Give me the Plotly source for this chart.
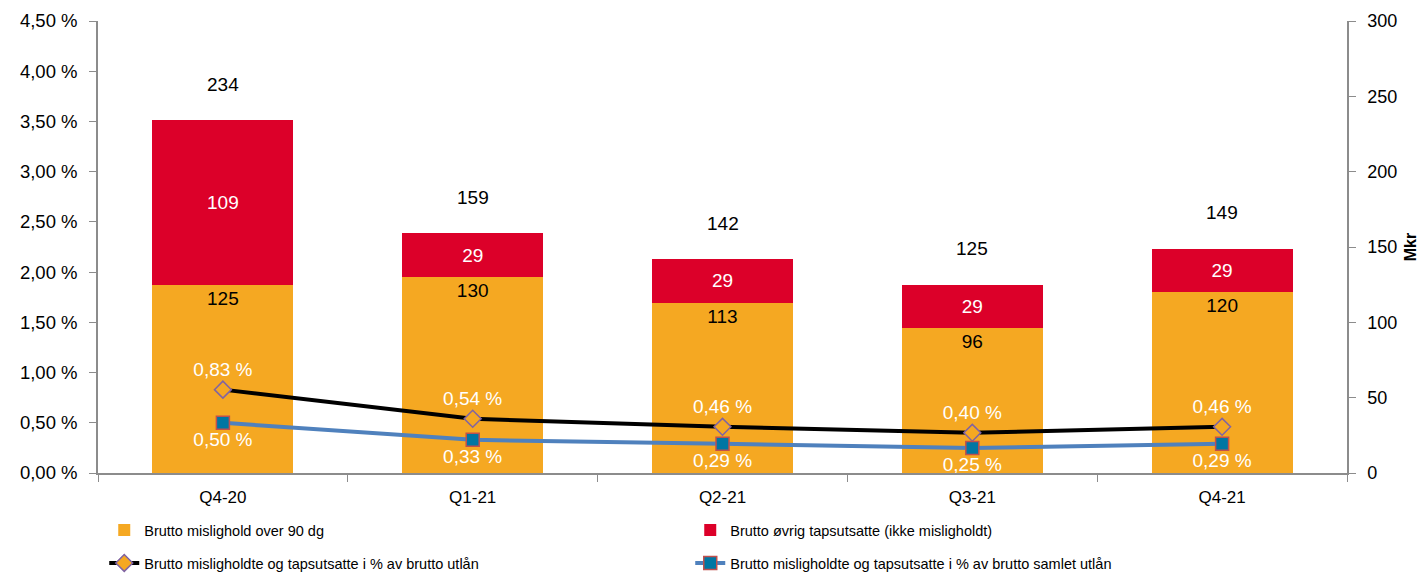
import plotly.graph_objects as go

categories = ["Q4-20", "Q1-21", "Q2-21", "Q3-21", "Q4-21"]
mislighold_90 = [125, 130, 113, 96, 120]
ovrig_tapsutsatte = [109, 29, 29, 29, 29]
totals = [234, 159, 142, 125, 149]
pct_brutto_utlan = [0.83, 0.54, 0.46, 0.40, 0.46]
pct_samlet_utlan = [0.50, 0.33, 0.29, 0.25, 0.29]

FONT = "Liberation Sans, Arial, sans-serif"
ORANGE = "#F5A822"
RED = "#DC0029"
BLUE_LINE = "#4F81BD"
SQ_FILL = "#0076A3"
SQ_EDGE = "#C0504D"
DIA_EDGE = "#8064A2"
AXIS_GREY = "#8C8C8C"

# page body adds an 8px offset; figure is sized/margined to compensate
W, H = 1417, 569


def pct_text(vals):
    return [f"{v:.2f}".replace(".", ",") + " %" for v in vals]


fig = go.Figure()

fig.add_trace(go.Bar(
    x=categories, y=mislighold_90, name="Brutto mislighold over 90 dg",
    marker=dict(color=ORANGE, line=dict(width=0)),
    text=[str(v) for v in mislighold_90], textposition="inside",
    insidetextanchor="end", textangle=0,
    textfont=dict(color="#000000", size=19, family=FONT),
    yaxis="y", legend="legend",
))
fig.add_trace(go.Bar(
    x=categories, y=ovrig_tapsutsatte, name="Brutto øvrig tapsutsatte (ikke misligholdt)",
    marker=dict(color=RED, line=dict(width=0)),
    text=[str(v) for v in ovrig_tapsutsatte], textposition="inside",
    insidetextanchor="middle", textangle=0,
    textfont=dict(color="#FFFFFF", size=19, family=FONT),
    yaxis="y", legend="legend",
))
fig.add_trace(go.Scatter(
    x=categories, y=pct_brutto_utlan,
    name="Brutto misligholdte og tapsutsatte i % av brutto utlån",
    mode="lines+markers+text",
    line=dict(color="#000000", width=4),
    marker=dict(symbol="diamond", size=13, color=ORANGE, line=dict(color=DIA_EDGE, width=1.5)),
    text=pct_text(pct_brutto_utlan), textposition="top center",
    textfont=dict(color="#FFFFFF", size=19, family=FONT),
    yaxis="y2", legend="legend2",
))
fig.add_trace(go.Scatter(
    x=categories, y=pct_samlet_utlan,
    name="Brutto misligholdte og tapsutsatte i % av brutto samlet utlån",
    mode="lines+markers+text",
    line=dict(color=BLUE_LINE, width=4),
    marker=dict(symbol="square", size=13, color=SQ_FILL, line=dict(color=SQ_EDGE, width=1.5)),
    text=pct_text(pct_samlet_utlan), textposition="bottom center",
    textfont=dict(color="#FFFFFF", size=19, family=FONT),
    yaxis="y2", legend="legend2",
))

annotations = [
    dict(x=c, y=t, xref="x", yref="y", text=str(t), showarrow=False, yshift=36,
         font=dict(color="#000000", size=19, family=FONT))
    for c, t in zip(categories, totals)
]

fig.update_layout(
    width=W, height=H,
    margin=dict(l=90, r=78, t=13, b=104, autoexpand=False),
    paper_bgcolor="#FFFFFF", plot_bgcolor="#FFFFFF",
    font=dict(family=FONT, size=16, color="#000000"),
    barmode="stack", bargap=0.435,
    annotations=annotations,
    separators=", ",
    xaxis=dict(
        showline=True, linecolor=AXIS_GREY, linewidth=1.5,
        ticks="outside", tickson="boundaries", ticklen=7, tickcolor=AXIS_GREY,
        ticklabelstandoff=8,
        showgrid=False, tickfont=dict(size=17, family=FONT),
    ),
    yaxis=dict(
        side="right", range=[0, 300], dtick=50, showgrid=False,
        showline=True, linecolor=AXIS_GREY, linewidth=1.5,
        ticks="outside", ticklen=7, tickcolor=AXIS_GREY, ticklabelstandoff=8,
        tickfont=dict(size=18, family=FONT), zeroline=False,
        title=dict(text="<b>Mkr</b>", font=dict(size=16, family=FONT), standoff=8),
    ),
    yaxis2=dict(
        side="left", overlaying="y", range=[0, 4.5], dtick=0.5, showgrid=False,
        showline=True, linecolor=AXIS_GREY, linewidth=1.5,
        ticks="outside", ticklen=7, tickcolor=AXIS_GREY, ticklabelstandoff=8,
        tickformat=".2f", ticksuffix=" %",
        tickfont=dict(size=18.5, family=FONT), zeroline=False,
    ),
    legend=dict(
        orientation="h", xref="paper", x=0.005, yref="container", y=1 - 522 / H,
        xanchor="left", yanchor="middle",
        entrywidth=541, entrywidthmode="pixels", traceorder="normal",
        font=dict(size=14.5, family=FONT), bgcolor="rgba(0,0,0,0)",
    ),
    legend2=dict(
        orientation="h", xref="paper", x=0.005, yref="container", y=1 - 555 / H,
        xanchor="left", yanchor="middle",
        entrywidth=541, entrywidthmode="pixels", traceorder="normal",
        font=dict(size=14.5, family=FONT), bgcolor="rgba(0,0,0,0)",
    ),
)

fig.write_html("out.html")
